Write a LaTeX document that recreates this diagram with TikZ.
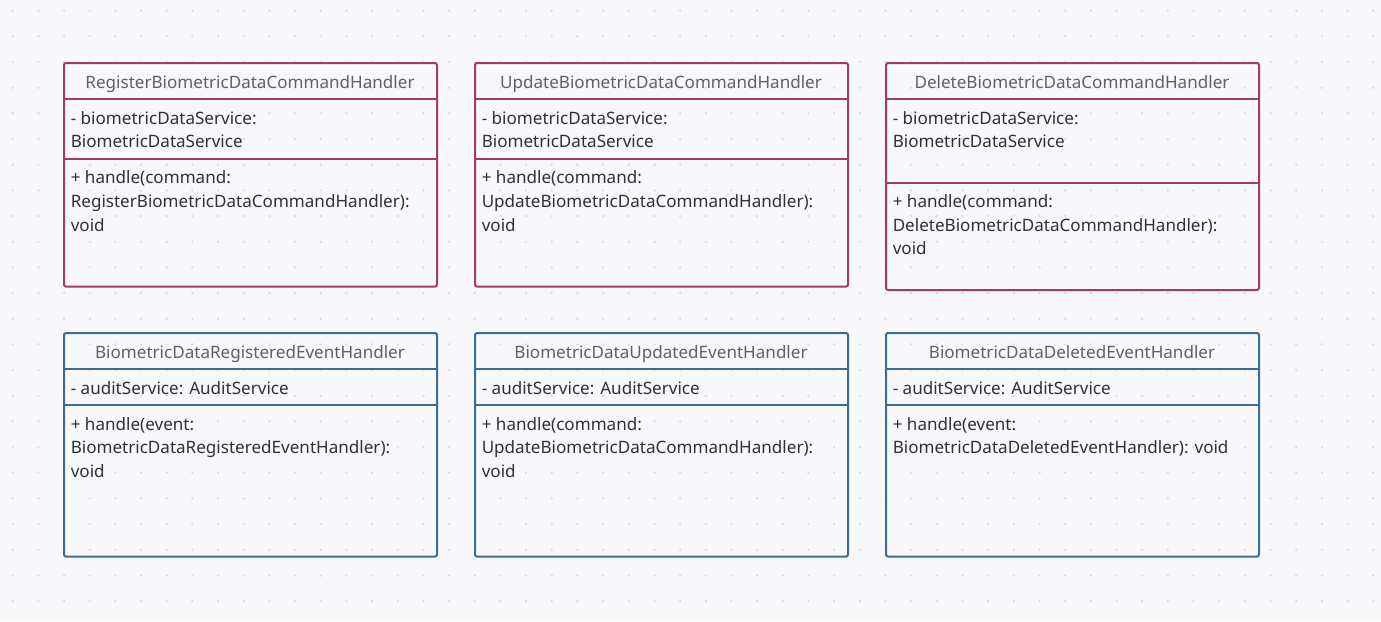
\documentclass[tikz,border=0pt]{standalone}
\usepackage{fontspec}
\setmainfont{Noto Sans}
\definecolor{canvas}{HTML}{F8F8FA}
\definecolor{griddot}{HTML}{DCDDE2}
\definecolor{cmdline}{HTML}{A53A63}
\definecolor{evtline}{HTML}{3B6C97}
\definecolor{titletext}{HTML}{606066}
\definecolor{bodytext}{HTML}{303038}
\tikzset{
  classbox/.style={draw, line width=1.5pt, rounded corners=1.5pt, inner sep=0pt, anchor=north west, minimum width=279.75pt},
  cmdbox/.style={classbox, draw=cmdline},
  evtbox/.style={classbox, draw=evtline},
  divider/.style={line width=1.5pt},
  ttl/.style={anchor=base, inner sep=0pt, text=titletext, font=\fontsize{12.8}{15}\selectfont},
  txt/.style={anchor=base west, inner sep=0pt, text=bodytext, font=\fontsize{12.8}{15}\selectfont},
}
% box: id, left, top, bottom, first divider, second divider, kind (cmd or evt)
\newcommand\umlbox[7]{%
  \node[#7box, minimum height=(#4-#3)*0.75pt] (#1) at (#2,#3) {};
  \draw[divider, draw=#7line] (#1.west |- 0,#5) -- (#1.east |- 0,#5);
  \draw[divider, draw=#7line] (#1.west |- 0,#6) -- (#1.east |- 0,#6);
}
\begin{document}
\begin{tikzpicture}[x=0.75pt, y=-0.75pt]
  \fill[canvas] (0,0) rectangle (1381,621);
  \useasboundingbox (0,0) rectangle (1381,621);
  % dotted canvas grid
  \foreach \i in {0,...,53} {
    \foreach \j in {0,...,23} {
      \fill[griddot] (12.7+25.67*\i, 10.7+25.67*\j) circle (1pt);
    }
  }

  % command handlers
  \umlbox{reg}{63}{62}{285.5}{99}{158.5}{cmd}
  \umlbox{upd}{474}{62}{285.5}{99}{158.5}{cmd}
  \umlbox{del}{885}{62}{289}{99}{182.5}{cmd}

  \node[ttl] (reg-t) at (250,88) {RegisterBiometricDataCommandHandler};
  \node[txt] (reg-a1) at (70.5,124) {- biometricDataService:};
  \node[txt] (reg-a2) at (70.5,147.5) {BiometricDataService};
  \node[txt] (reg-m1) at (70.5,183.5) {+ handle(command:};
  \node[txt] (reg-m2) at (70.5,207.5) {RegisterBiometricDataCommandHandler):};
  \node[txt] (reg-m3) at (70.5,231.5) {void};

  \node[ttl] (upd-t) at (661,88) {UpdateBiometricDataCommandHandler};
  \node[txt] (upd-a1) at (481.5,124) {- biometricDataService:};
  \node[txt] (upd-a2) at (481.5,147.5) {BiometricDataService};
  \node[txt] (upd-m1) at (481.5,183.5) {+ handle(command:};
  \node[txt] (upd-m2) at (481.5,207.5) {UpdateBiometricDataCommandHandler):};
  \node[txt] (upd-m3) at (481.5,231.5) {void};

  \node[ttl] (del-t) at (1072,88) {DeleteBiometricDataCommandHandler};
  \node[txt] (del-a1) at (892.5,124) {- biometricDataService:};
  \node[txt] (del-a2) at (892.5,147.5) {BiometricDataService};
  \node[txt] (del-m1) at (892.5,207.5) {+ handle(command:};
  \node[txt] (del-m2) at (892.5,231) {DeleteBiometricDataCommandHandler):};
  \node[txt] (del-m3) at (892.5,254.5) {void};

  % event handlers
  \umlbox{regev}{63}{332}{555.5}{369}{405}{evt}
  \umlbox{updev}{474}{332}{555.5}{369}{405}{evt}
  \umlbox{delev}{885}{332}{555.5}{369}{405}{evt}

  \node[ttl] (regev-t) at (250,358) {BiometricDataRegisteredEventHandler};
  \node[txt] (regev-a1) at (70.5,394) {- auditService: AuditService};
  \node[txt] (regev-m1) at (70.5,430) {+ handle(event:};
  \node[txt] (regev-m2) at (70.5,453.5) {BiometricDataRegisteredEventHandler):};
  \node[txt] (regev-m3) at (70.5,477) {void};

  \node[ttl] (updev-t) at (661,358) {BiometricDataUpdatedEventHandler};
  \node[txt] (updev-a1) at (481.5,394) {- auditService: AuditService};
  \node[txt] (updev-m1) at (481.5,430) {+ handle(command:};
  \node[txt] (updev-m2) at (481.5,453.5) {UpdateBiometricDataCommandHandler):};
  \node[txt] (updev-m3) at (481.5,477) {void};

  \node[ttl] (delev-t) at (1072,358) {BiometricDataDeletedEventHandler};
  \node[txt] (delev-a1) at (892.5,394) {- auditService: AuditService};
  \node[txt] (delev-m1) at (892.5,430) {+ handle(event:};
  \node[txt] (delev-m2) at (892.5,453.5) {BiometricDataDeletedEventHandler): void};
\end{tikzpicture}
\end{document}
